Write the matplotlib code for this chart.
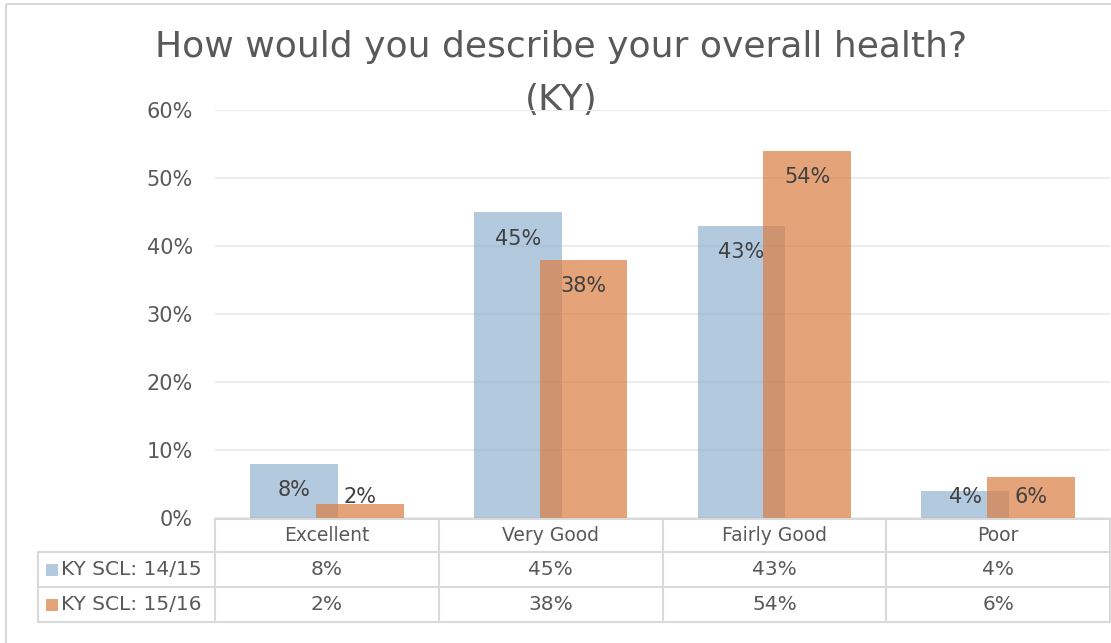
import matplotlib.pyplot as plt
import numpy as np
from matplotlib.patches import Rectangle
from matplotlib.lines import Line2D
from matplotlib import transforms

# chart values
categories = ["Excellent", "Very Good", "Fairly Good", "Poor"]
series_names = ["KY SCL: 14/15", "KY SCL: 15/16"]
scl_1415 = [0.08, 0.45, 0.43, 0.04]
scl_1516 = [0.02, 0.38, 0.54, 0.06]
y_ticks = [0.0, 0.1, 0.2, 0.3, 0.4, 0.5, 0.6]

colors = ["#92B2D0", "#DA7D41"]
text_col = "#595959"
label_col = "#404040"
line_col = "#D9D9D9"

plt.rcParams['font.family'] = ['DejaVu Sans']

W, H = 1111, 643
fig = plt.figure(figsize=(W / 100, H / 100), dpi=100)


def fx(px):
    return px / W


def fy(py):
    return 1 - py / H


# pixel overlay for border, title and the data table
over = fig.add_axes([0, 0, 1, 1], zorder=0)
over.set_xlim(0, W)
over.set_ylim(H, 0)
over.axis("off")
over.add_patch(Rectangle((6, 4), W + 10, H + 10, fill=False, ec=line_col, lw=1.5))

over.text(561, 47, "How would you describe your overall health?", ha="center", va="center",
          fontsize=26, color=text_col)
over.text(561, 100, "(KY)", ha="center", va="center", fontsize=26, color=text_col)

# bar chart
ax = fig.add_axes([fx(215), fy(518), fx(1110) - fx(215), fy(110) - fy(518)], zorder=1)
ax.patch.set_alpha(0)
x = np.arange(len(categories))
width = 0.393
off = 0.147
series = [scl_1415, scl_1516]
for i, vals in enumerate(series):
    pos = x + (-off if i == 0 else off)
    ax.bar(pos, vals, width, color=colors[i], alpha=0.7, zorder=2 + i)
    for xp, v in zip(pos, vals):
        ax.text(xp, max(v - 0.039, 0.031), f"{v:.0%}", ha="center", va="center",
                fontsize=15, color=label_col, zorder=5)

ax.set_xlim(-0.5, len(categories) - 0.5)
ax.set_ylim(0, 0.6)
ax.set_yticks(y_ticks)
ax.set_yticklabels([f"{t:.0%}" for t in y_ticks])
ax.tick_params(axis="y", length=0, pad=16, labelsize=15, labelcolor=text_col)
ax.set_xticks([])
ax.grid(axis="y", color="#EBEBEB", lw=1.5, zorder=0)
ax.set_axisbelow(True)
for s in ax.spines.values():
    s.set_visible(False)

# data table under the plot
blend = transforms.blended_transform_factory(ax.transData, over.transData)
rows_y = [519, 552, 587, 622]
edges = np.arange(len(categories) + 1) - 0.5

over.add_line(Line2D([215, 1110], [rows_y[0]] * 2, color=line_col, lw=1.5))
for yy in rows_y[1:]:
    over.add_line(Line2D([38, 1110], [yy, yy], color=line_col, lw=1.5))
over.add_line(Line2D([38, 38], [rows_y[1], rows_y[3]], color=line_col, lw=1.5))
for e in edges:
    over.add_line(Line2D([e, e], [rows_y[0], rows_y[3]], color=line_col, lw=1.5,
                         transform=blend))

for xc, cat in zip(x, categories):
    over.text(xc, (rows_y[0] + rows_y[1]) / 2, cat, ha="center", va="center",
              fontsize=13.5, color=text_col, transform=blend)

for r, (name, vals) in enumerate(zip(series_names, series)):
    yc = (rows_y[r + 1] + rows_y[r + 2]) / 2
    over.add_patch(Rectangle((46, yc - 6), 12, 12, color=colors[r], alpha=0.7, lw=0))
    over.text(61, yc, name, ha="left", va="center", fontsize=14.5, color=text_col)
    for xc, v in zip(x, vals):
        over.text(xc, yc, f"{v:.0%}", ha="center", va="center", fontsize=14.5,
                  color=text_col, transform=blend)

fig.savefig("out.png", dpi=100)
